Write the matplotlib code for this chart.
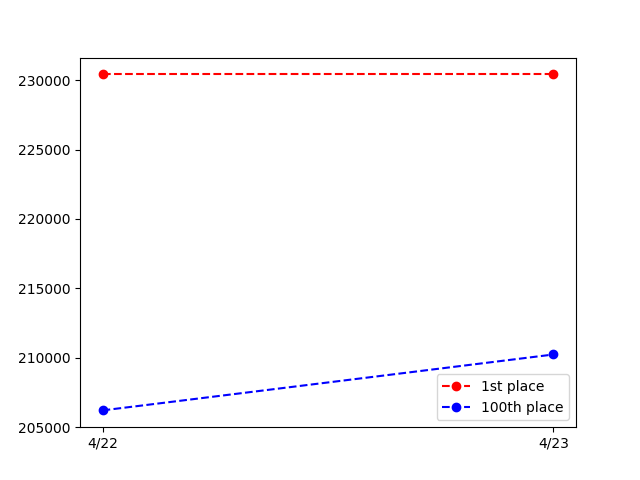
import matplotlib
matplotlib.use("Agg")
import matplotlib.pyplot as plt

dates = ["4/22", "4/23"]
first_place = [230420, 230420]
hundredth_place = [206200, 210230]

plt.figure(figsize=(6.4, 4.8))
plt.plot(dates, first_place, marker='o', linestyle='--', color='red', label="1st place")
plt.plot(dates, hundredth_place, marker='o', linestyle='--', color='blue', label="100th place")
plt.legend()
plt.savefig("out.png", dpi=100)
